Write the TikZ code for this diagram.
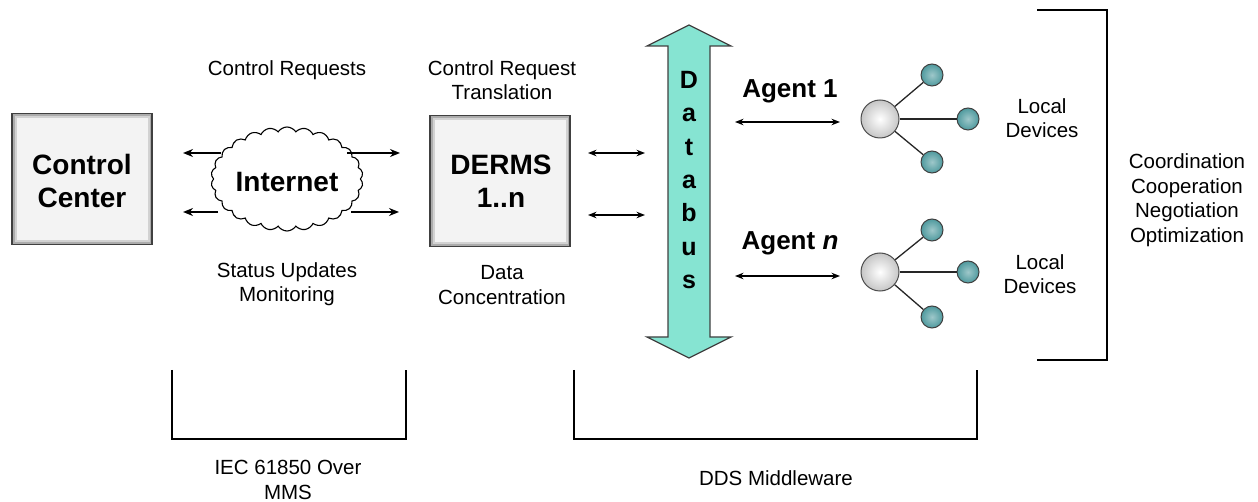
\documentclass[tikz,border=0pt]{standalone}
\usepackage{fontspec}
\setmainfont{Liberation Sans}
\usetikzlibrary{arrows.meta,shapes.symbols}
\definecolor{boxfill}{HTML}{F3F3F3}
\definecolor{busL}{HTML}{B0F8EC}
\definecolor{busD}{HTML}{86E4D2}
\definecolor{devteal}{HTML}{4F9A9E}
\tikzset{
  reg/.style={font=\fontsize{20.5}{24.5}\selectfont, align=center, inner sep=0pt},
  big/.style={font=\fontsize{28}{33.5}\selectfont\bfseries, align=center},
  boxnode/.style={rectangle, fill=boxfill, draw=black!75, line width=1.4pt,
     minimum width=140pt, minimum height=131pt, inner sep=0pt,
     path picture={\draw[gray!35, line width=9pt] (path picture bounding box.south west) rectangle (path picture bounding box.north east);
                   \draw[gray!65, line width=5pt] (path picture bounding box.south west) rectangle (path picture bounding box.north east);}},
  arr/.style={line width=1.7pt, -{Stealth[length=10pt,width=8pt]}},
  darr/.style={line width=1.3pt, {Stealth[length=8.5pt,width=6.5pt]}-{Stealth[length=8.5pt,width=6.5pt]}},
  brk/.style={line width=2.6pt},
  hubnode/.style={circle, draw=black!70, line width=1pt, minimum size=38pt, inner sep=0pt, inner color=white, outer color=gray!45},
  devnode/.style={circle, draw=black!75, line width=1pt, minimum size=22pt, inner sep=0pt, inner color=devteal!55!white, outer color=devteal},
  link/.style={line width=1.3pt, black!85}
}
\begin{document}
\begin{tikzpicture}[x=1pt,y=-1pt]
\useasboundingbox (0,0) rectangle (1258,502);

% Control Center and DERMS boxes
\node[boxnode] (cc) at (82,179) {};
\node[big] (cctext) at (82,181) {Control\\Center};
\node[boxnode] (derms) at (500,181) {};
\node[big] (dermstext) at (501,181) {DERMS\\1..n};

% Cloud
\node[cloud, cloud puffs=26, cloud puff arc=115, aspect=1.45, draw, line width=1.1pt, fill=white,
      minimum width=152pt, minimum height=104pt, inner sep=0pt] (net) at (287,179) {};
\node[big] (nettext) at (287,182) {Internet};

% Arrows around cloud
\coordinate (l1s) at (221,153); \coordinate (l1e) at (183,153);
\coordinate (l2s) at (218,212); \coordinate (l2e) at (183,212);
\coordinate (r1s) at (347,153); \coordinate (r1e) at (400,153);
\coordinate (r2s) at (351,212); \coordinate (r2e) at (399,212);
\draw[arr] (l1s) -- (l1e);
\draw[arr] (l2s) -- (l2e);
\draw[arr] (r1s) -- (r1e);
\draw[arr] (r2s) -- (r2e);

% Labels
\node[reg] (lblreq) at (287,70) {Control Requests};
\node[reg] (lblstat) at (287,284) {Status Updates\\Monitoring};
\node[reg] (lbltrans) at (502,80) {Control Request\\Translation};
\node[reg] (lblconc) at (502,285) {Data\\Concentration};

% Databus arrow
\shadedraw[left color=busD, middle color=busL, right color=busD, draw=black!75, line width=1.3pt, line join=miter]
  (689,25) -- (731,46) -- (710,46) -- (710,337) -- (731,337) -- (689,358)
  -- (647,337) -- (668,337) -- (668,46) -- (647,46) -- cycle;
\node[font=\fontsize{25}{33.4}\selectfont\bfseries, align=center, inner sep=0pt] (bus) at (689,180)
  {D\\a\\t\\a\\b\\u\\s};

% DERMS <-> Databus
\coordinate (d1s) at (588,153); \coordinate (d1e) at (645,153);
\coordinate (d2s) at (588,215); \coordinate (d2e) at (645,215);
\draw[darr] (d1s) -- (d1e);
\draw[darr] (d2s) -- (d2e);

% Agents
\node[font=\fontsize{26}{30}\selectfont\bfseries, inner sep=0pt] (ag1) at (790,91) {Agent 1};
\node[font=\fontsize{26}{30}\selectfont\bfseries, inner sep=0pt] (agn) at (790,243) {Agent \textit{n}};
\coordinate (a1s) at (735,122); \coordinate (a1e) at (840,122);
\coordinate (a2s) at (735,276); \coordinate (a2e) at (840,276);
\draw[darr] (a1s) -- (a1e);
\draw[darr] (a2s) -- (a2e);

% Hubs
\node[hubnode] (h1) at (880,119) {};
\node[devnode] (h1a) at (932,75) {};
\node[devnode] (h1b) at (968,119) {};
\node[devnode] (h1c) at (932,162) {};
\draw[link] (h1) -- (h1a);
\draw[link] (h1) -- (h1b);
\draw[link] (h1) -- (h1c);
\node[hubnode] (h2) at (880,272) {};
\node[devnode] (h2a) at (932,230) {};
\node[devnode] (h2b) at (968,272) {};
\node[devnode] (h2c) at (932,317) {};
\draw[link] (h2) -- (h2a);
\draw[link] (h2) -- (h2b);
\draw[link] (h2) -- (h2c);

\node[reg] (loc1) at (1042,118) {Local\\Devices};
\node[reg] (loc2) at (1040,274) {Local\\Devices};

% Right bracket
\coordinate (rb1) at (1037,10); \coordinate (rb2) at (1107,10);
\coordinate (rb3) at (1107,360); \coordinate (rb4) at (1037,360);
\draw[brk] (rb1) -- (rb2) -- (rb3) -- (rb4);
\node[reg] (coord) at (1187,200) {Coordination\\Cooperation\\Negotiation\\Optimization};

% Bottom brackets
\coordinate (b1a) at (172,370); \coordinate (b1b) at (172,439);
\coordinate (b1c) at (406,439); \coordinate (b1d) at (406,370);
\draw[brk] (b1a) -- (b1b) -- (b1c) -- (b1d);
\node[reg] (iec) at (288,480) {IEC 61850 Over\\MMS};
\coordinate (b2a) at (574,370); \coordinate (b2b) at (574,439);
\coordinate (b2c) at (977,439); \coordinate (b2d) at (977,370);
\draw[brk] (b2a) -- (b2b) -- (b2c) -- (b2d);
\node[reg] (dds) at (776,478) {DDS Middleware};
\end{tikzpicture}
\end{document}
